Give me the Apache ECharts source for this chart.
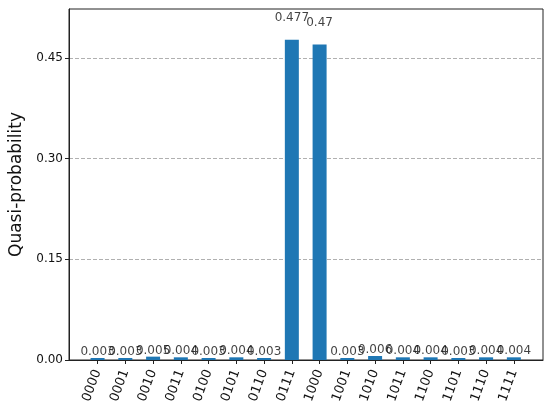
<!DOCTYPE html>
<html>
<head>
<meta charset="utf-8">
<script src="https://cdn.jsdelivr.net/npm/echarts@6/dist/echarts.min.js"></script>
<style>html,body{margin:0;padding:0;background:#fff}#c{width:550px;height:412px}</style>
</head>
<body>
<div id="c"></div>
<script>
const categories = ['0000','0001','0010','0011','0100','0101','0110','0111','1000','1001','1010','1011','1100','1101','1110','1111'];
const values = [0.003,0.003,0.005,0.004,0.003,0.004,0.003,0.477,0.47,0.003,0.006,0.004,0.004,0.003,0.004,0.004];
const yTicks = [0, 0.15, 0.30, 0.45];

const idx = categories.map((c,i)=>i);
const chart = echarts.init(document.getElementById('c'), null, {renderer:'canvas'});
const font = 'DejaVu Sans';
chart.setOption({
  animation:false,
  grid:{left:69,right:7,top:9,bottom:52,show:true,borderColor:'#222',borderWidth:1,backgroundColor:'transparent'},
  xAxis:{
    type:'value', min:-1.03, max:16.05,
    axisLine:{show:true,onZero:false,lineStyle:{color:'#222'}},
    splitLine:{show:false},
    axisTick:{show:true,length:4,customValues:idx,lineStyle:{color:'#222'}},
    axisLabel:{customValues:idx,rotate:70,fontFamily:font,fontSize:13,color:'#111',margin:10,
      formatter:v=>categories[Math.round(v)]}
  },
  yAxis:{
    type:'value', min:0, max:0.523,
    name:'Quasi-probability', nameLocation:'middle', nameGap:44,
    nameTextStyle:{fontFamily:font,fontSize:17,color:'#111'},
    axisLine:{show:true,onZero:false,lineStyle:{color:'#222'}},
    axisTick:{show:true,length:4,customValues:yTicks,lineStyle:{color:'#222'}},
    axisLabel:{customValues:yTicks,fontFamily:font,fontSize:12,color:'#111',margin:6,formatter:v=>v.toFixed(2)},
    splitLine:{show:true,lineStyle:{color:'#b0b0b0',type:[4,2],width:1}}
  },
  series:[
    {type:'bar',barWidth:14,itemStyle:{color:'#1f77b4'},data:values.map((v,i)=>[i,v])},
    {type:'scatter',symbolSize:0,silent:true,data:values.map((v,i)=>[i,v*1.05]),
     label:{show:true,position:'top',distance:0,fontFamily:font,fontSize:12,color:'#111',
       formatter:p=>String(values[p.dataIndex])}}
  ]
});
</script>
</body>
</html>
